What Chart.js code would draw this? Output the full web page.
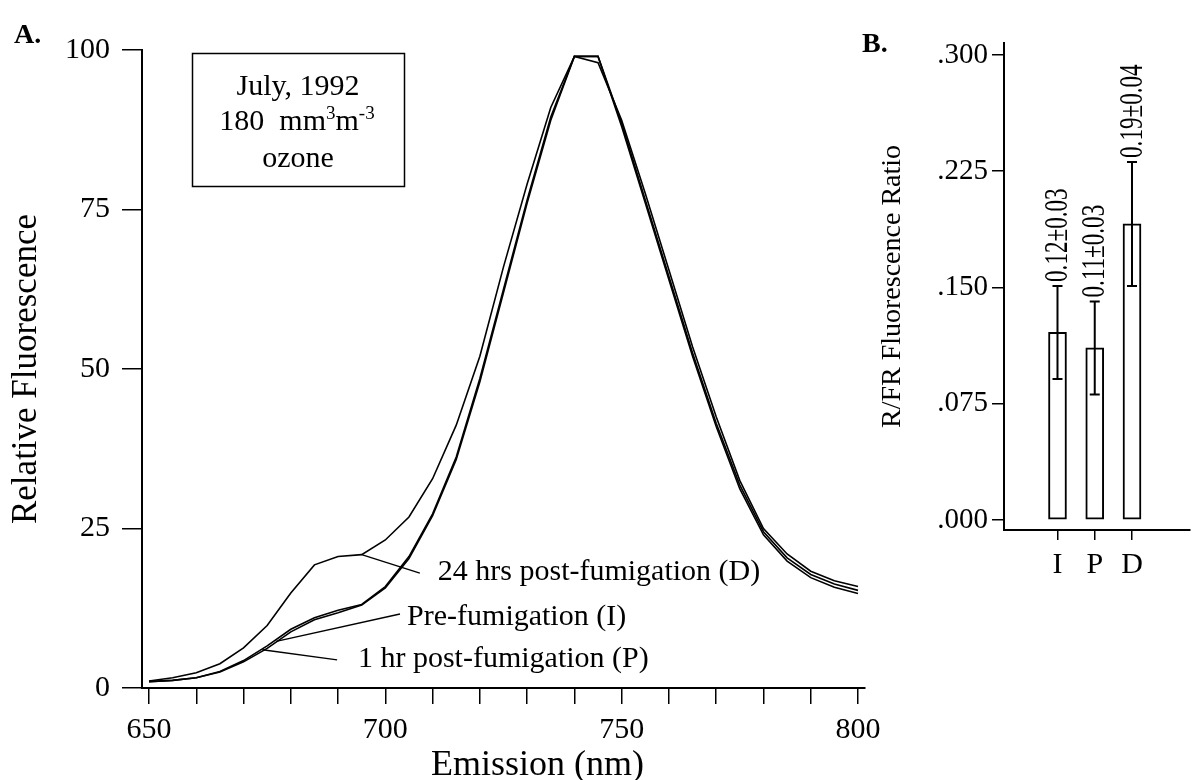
<!DOCTYPE html>
<html>
<head>
<meta charset="utf-8">
<script src="https://cdn.jsdelivr.net/npm/chart.js@4.4.1/dist/chart.umd.min.js"></script>
<style>
  html, body { margin: 0; padding: 0; background: #fff; }
  #page { position: relative; width: 1195px; height: 780px; overflow: hidden; }
  canvas { position: absolute; top: 0; }
  #chartA { left: 0; }
  #chartB { left: 850px; }
</style>
</head>
<body>
<div id="page">
  <canvas id="chartA" width="900" height="780"></canvas>
  <canvas id="chartB" width="345" height="780"></canvas>
</div>
<script>
// panel A: emission spectra
const wavelengths = [650, 655, 660, 665, 670, 675, 680, 685, 690, 695, 700, 705, 710, 715, 720, 725,
                     730, 735, 740, 745, 750, 755, 760, 765, 770, 775, 780, 785, 790, 795, 800];
const fluorD = [1.1, 1.6, 2.4, 3.8, 6.3, 9.8, 14.9, 19.3, 20.6, 20.9, 23.2, 26.8, 32.8, 41.2, 52, 66,
                79, 91, 99, 98, 89, 77.5, 65.5, 53.5, 42.5, 32.5, 25, 21, 18.3, 16.8, 15.9];
const fluorI = [1.0, 1.2, 1.6, 2.6, 4.3, 6.6, 9.2, 11.0, 12.2, 13.1, 15.9, 20.6, 27.3, 36.2, 48.5, 62.5,
                76.5, 89.5, 99, 99, 88.5, 76.5, 64.5, 52.5, 41.5, 31.8, 24.5, 20.4, 17.8, 16.3, 15.3];
const fluorP = [1.0, 1.2, 1.6, 2.5, 4.1, 6.2, 8.8, 10.7, 11.8, 13.0, 15.7, 20.3, 27.0, 35.8, 48, 62,
                76, 89, 99, 99, 88, 76, 64, 52, 41, 31.2, 24, 19.9, 17.3, 15.8, 14.8];
const seriesNames = ['24 hrs post-fumigation (D)', 'Pre-fumigation (I)', '1 hr post-fumigation (P)'];
const xTickValues = [650, 660, 670, 680, 690, 700, 710, 720, 730, 740, 750, 760, 770, 780, 790, 800];
const xTickLabelled = [650, 700, 750, 800];
const yTickValues = [0, 25, 50, 75, 100];

// panel B: R/FR ratio
const groups = ['I', 'P', 'D'];
const ratioMeans = [0.121, 0.111, 0.191];
const ratioErrors = [0.03, 0.03, 0.04];
const ratioLabels = ['0.12\u00b10.03', '0.11\u00b10.03', '0.19\u00b10.04'];
const ratioTicks = [0, 0.075, 0.15, 0.225, 0.3];

const serif = '"Liberation Serif", "Times New Roman", Times, serif';
Chart.defaults.font.family = serif;
Chart.defaults.color = '#000';

// text runs with superscripts, centred on cx
function drawRuns(ctx, runs, cx, baseY) {
    let w = 0;
    runs.forEach(r => { ctx.font = r.size + 'px ' + serif; w += ctx.measureText(r.t).width; });
    let x = cx - w / 2;
    ctx.textAlign = 'left';
    runs.forEach(r => {
        ctx.font = r.size + 'px ' + serif;
        ctx.fillText(r.t, x, baseY + r.dy);
        x += ctx.measureText(r.t).width;
    });
}

const panelA = {
    id: 'panelA',
    afterDraw(chart) {
        const ctx = chart.ctx;
        const xs = chart.scales.x, ys = chart.scales.y;
        ctx.save();
        ctx.fillStyle = '#000';
        ctx.strokeStyle = '#000';
        ctx.textBaseline = 'alphabetic';

        ctx.font = 'bold 28px ' + serif;
        ctx.textAlign = 'left';
        ctx.fillText('A.', 14, 43);

        // condition box
        ctx.lineWidth = 1.5;
        ctx.strokeRect(192.5, 53.5, 212, 133);
        ctx.font = '30px ' + serif;
        ctx.textAlign = 'center';
        ctx.fillText('July, 1992', 298, 95);
        drawRuns(ctx, [
            { t: '180  mm', size: 30, dy: 0 },
            { t: '3', size: 19, dy: -11 },
            { t: 'm', size: 30, dy: 0 },
            { t: '-3', size: 19, dy: -11 }
        ], 297, 130);
        ctx.textAlign = 'center';
        ctx.font = '30px ' + serif;
        ctx.fillText('ozone', 298, 167);

        // leader lines to the curves
        const notes = [
            { from: [695, 20.9], to: [707.3, 18.0], at: [711.1, 16.9] },
            { from: [676.9, 7.3], to: [703.1, 11.6], at: [704.6, 9.9] },
            { from: [674, 6.0], to: [689.8, 4.4], at: [694.2, 3.3] }
        ];
        ctx.lineWidth = 1.4;
        ctx.font = '30px ' + serif;
        ctx.textAlign = 'left';
        notes.forEach((n, i) => {
            ctx.beginPath();
            ctx.moveTo(xs.getPixelForValue(n.from[0]), ys.getPixelForValue(n.from[1]));
            ctx.lineTo(xs.getPixelForValue(n.to[0]), ys.getPixelForValue(n.to[1]));
            ctx.stroke();
            ctx.fillText(seriesNames[i], xs.getPixelForValue(n.at[0]), ys.getPixelForValue(n.at[1]));
        });

        ctx.font = '36px ' + serif;
        ctx.fillText('Emission (nm)', 431, 775);
        ctx.restore();
    }
};

const lineSets = [fluorD, fluorI, fluorP].map((vals, i) => ({
    label: seriesNames[i],
    data: wavelengths.map((w, k) => ({ x: w, y: vals[k] })),
    borderColor: '#000',
    borderWidth: 1.6,
    pointRadius: 0,
    tension: 0,
    fill: false
}));

new Chart(document.getElementById('chartA'), {
    type: 'line',
    data: { datasets: lineSets },
    options: {
        responsive: false,
        animation: false,
        devicePixelRatio: 1,
        layout: { padding: { top: 50, right: 35, left: 0, bottom: 0 } },
        plugins: { legend: { display: false }, tooltip: { enabled: false } },
        scales: {
            x: {
                type: 'linear',
                min: 648.52,
                max: 801.48,
                afterBuildTicks: s => { s.ticks = xTickValues.map(v => ({ value: v })); },
                afterFit: s => { s.height = 92; },
                ticks: {
                    autoSkip: false, maxRotation: 0, padding: 8, font: { size: 30 },
                    callback: v => xTickLabelled.includes(v) ? String(v) : ''
                },
                grid: { drawOnChartArea: false, tickLength: 16, color: '#000', lineWidth: 1.5 },
                border: { display: true, color: '#000', width: 2 }
            },
            y: {
                min: 0,
                max: 100,
                afterBuildTicks: s => { s.ticks = yTickValues.map(v => ({ value: v })); },
                afterFit: s => { s.width = 142; },
                ticks: { padding: 12, font: { size: 30 } },
                grid: { drawOnChartArea: false, tickLength: 20, color: '#000', lineWidth: 1.5 },
                border: { display: true, color: '#000', width: 2 },
                title: {
                    display: true, text: 'Relative Fluorescence',
                    font: { size: 35, lineHeight: 1 }, padding: { top: 9, bottom: 0 }
                }
            }
        }
    },
    plugins: [panelA]
});

const panelB = {
    id: 'panelB',
    afterDatasetsDraw(chart) {
        const ctx = chart.ctx;
        const xs = chart.scales.x, ys = chart.scales.y;
        ctx.save();
        ctx.strokeStyle = '#000';
        ctx.fillStyle = '#000';
        ctx.lineWidth = 2;
        ratioMeans.forEach((m, i) => {
            const px = xs.getPixelForValue(i + 1);
            const lo = ys.getPixelForValue(m - ratioErrors[i]);
            const hi = ys.getPixelForValue(m + ratioErrors[i]);
            ctx.beginPath();
            ctx.moveTo(px, lo); ctx.lineTo(px, hi);
            ctx.moveTo(px - 5, lo); ctx.lineTo(px + 5, lo);
            ctx.moveTo(px - 5, hi); ctx.lineTo(px + 5, hi);
            ctx.stroke();

            ctx.save();
            ctx.translate(px + 1, hi - 4);
            ctx.rotate(-Math.PI / 2);
            ctx.scale(0.7, 1);
            ctx.font = '33px ' + serif;
            ctx.textAlign = 'left';
            ctx.textBaseline = 'middle';
            ctx.fillText(ratioLabels[i], 0, 0);
            ctx.restore();
        });
        ctx.font = 'bold 28px ' + serif;
        ctx.textAlign = 'left';
        ctx.textBaseline = 'alphabetic';
        ctx.fillText('B.', 12, 52);
        ctx.restore();
    }
};

new Chart(document.getElementById('chartB'), {
    type: 'bar',
    data: {
        datasets: [{
            data: ratioMeans.map((m, i) => ({ x: i + 1, y: m })),
            backgroundColor: '#fff',
            borderColor: '#000',
            borderWidth: 2,
            borderSkipped: false,
            barThickness: 18
        }]
    },
    options: {
        responsive: false,
        animation: false,
        devicePixelRatio: 1,
        layout: { padding: { top: 43, right: 5, left: 0, bottom: 0 } },
        plugins: { legend: { display: false }, tooltip: { enabled: false } },
        scales: {
            x: {
                type: 'linear',
                offset: false,
                min: -0.436,
                max: 4.557,
                afterBuildTicks: s => { s.ticks = groups.map((g, i) => ({ value: i + 1 })); },
                afterFit: s => { s.height = 250; },
                ticks: {
                    autoSkip: false, maxRotation: 0, padding: 7, font: { size: 30 },
                    callback: v => groups[v - 1] || ''
                },
                grid: { offset: false, drawOnChartArea: false, tickLength: 10, color: '#000', lineWidth: 1.5 },
                border: { display: true, color: '#000', width: 2 }
            },
            y: {
                min: -0.00645,
                max: 0.30774,
                afterBuildTicks: s => { s.ticks = ratioTicks.map(v => ({ value: v })); },
                afterFit: s => { s.width = 154; },
                ticks: { padding: 4, font: { size: 29 }, callback: v => v.toFixed(3).slice(1) },
                grid: { drawOnChartArea: false, tickLength: 12, color: '#000', lineWidth: 1.5 },
                border: { display: true, color: '#000', width: 2 },
                title: {
                    display: true, text: 'R/FR Fluorescence Ratio',
                    font: { size: 28, lineHeight: 1 }, padding: { top: 29, bottom: 0 }
                }
            }
        }
    },
    plugins: [panelB]
});
</script>
</body>
</html>
